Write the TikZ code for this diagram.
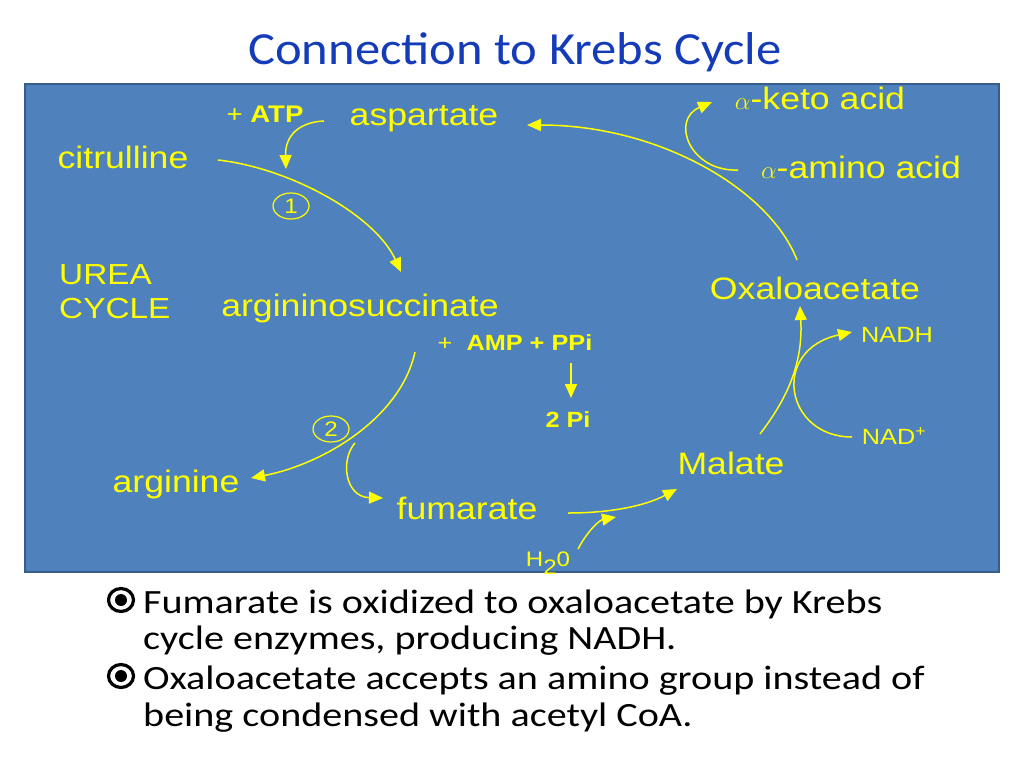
\documentclass[tikz,border=0pt]{standalone}
\usepackage{fontspec}
\setmainfont{Liberation Sans}[FakeStretch=1.15]
\newfontfamily\slidefont{Carlito}[FakeStretch=1.18]
\newfontfamily\titlefont{Carlito}[FakeStretch=1.1]
\usetikzlibrary{arrows.meta,shapes.geometric}
\definecolor{slideblue}{RGB}{79,129,189}
\definecolor{frameblue}{RGB}{56,93,138}
\definecolor{titleblue}{RGB}{20,60,185}
\definecolor{labelyellow}{RGB}{255,255,0}

\begin{document}
\begin{tikzpicture}[x=1pt,y=-1pt,
  metab/.style={text=labelyellow,font=\fontsize{31}{34}\selectfont,inner sep=0pt},
  small/.style={text=labelyellow,font=\fontsize{22}{26}\selectfont,inner sep=0pt},
  stepnum/.style={draw=labelyellow,ellipse,line width=1.2pt,text=labelyellow,
    font=\fontsize{21}{22}\selectfont,inner sep=0pt,minimum width=36pt,minimum height=26pt},
  flow/.style={draw=labelyellow,line width=1.5pt,-{Triangle[length=14pt,width=12pt]}},
  point/.style={anchor=base west,font=\slidefont\fontsize{34}{36}\selectfont,inner sep=0pt},
  ring/.style={draw=black,ellipse,line width=3.2pt,minimum width=25pt,minimum height=23pt,inner sep=0pt},
  core/.style={fill=black,circle,minimum size=12pt,inner sep=0pt}]

\useasboundingbox (0,0) rectangle (1024,768);
\fill[white] (0,0) rectangle (1024,768);
\node[anchor=base,text=titleblue,font=\titlefont\fontsize{46}{50}\selectfont] (title) at (515,64) {Connection to Krebs Cycle};
\draw[fill=slideblue,draw=frameblue,line width=2pt] (25,84) rectangle (999,572);

% metabolites
\node[metab] (citrulline) at (123,157) {citrulline};
\node[metab] (aspartate) at (424,119) {aspartate};
\node[metab] (argsucc) at (360,308) {argininosuccinate};
\node[metab] (arginine) at (176,484) {arginine};
\node[metab] (fumarate) at (467,508) {fumarate};
\node[metab] (malate) at (731,463) {Malate};
\node[metab] (oxalo) at (815,288) {Oxaloacetate};
\node[metab] (amino) at (861,167) {$\alpha$-amino acid};
\node[metab] (keto) at (820,98) {$\alpha$-keto acid};
\node[metab,anchor=west,align=left,font=\fontsize{29}{34}\selectfont] (urea) at (59,292) {UREA\\CYCLE};

% cofactors
\node[small,font=\fontsize{24}{26}\selectfont] (atp) at (265,114) {+ \textbf{ATP}};
\node[small] (amp) at (515,343) {+\ \ \textbf{AMP + PPi}};
\node[small] (twopi) at (568,420) {\textbf{2 Pi}};
\node[small] (nadh) at (897,335) {NADH};
\node[small] (nadplus) at (894,436) {NAD\textsuperscript{+}};
\node[small,font=\fontsize{21}{24}\selectfont] (water) at (548,563) {H\raisebox{-8pt}{2}0};
\node[stepnum] (step1) at (291,206) {1};
\node[stepnum] (step2) at (331,429) {2};

% curve ends
\coordinate (c1s) at (218,160);
\coordinate (c1e) at (401,272);
\coordinate (atps) at (324,121);
\coordinate (atpe) at (286,169);
\coordinate (c2s) at (415,352);
\coordinate (c2e) at (251,478);
\coordinate (c2b) at (355,443);
\coordinate (fume) at (383,498);
\coordinate (ppis) at (571,363);
\coordinate (ppie) at (571,398);
\coordinate (c3s) at (568,513);
\coordinate (c3e) at (677,489);
\coordinate (waters) at (578,549);
\coordinate (watere) at (616,517);
\coordinate (c4s) at (760,434);
\coordinate (c4e) at (800,306);
\coordinate (nads) at (852,437);
\coordinate (nade) at (852,332);
\coordinate (c5s) at (797,260);
\coordinate (c5e) at (527,125);
\coordinate (aminos) at (738,170);
\coordinate (ketoe) at (712,102);

\draw[flow] (c1s) .. controls (290,168) and (375,215) .. (c1e);
\draw[flow] (atps) .. controls (300,122) and (285,135) .. (atpe);
\draw[flow] (c2s) .. controls (400,420) and (320,465) .. (c2e);
\draw[flow] (c2b) .. controls (340,460) and (345,497) .. (fume);
\draw[flow] (ppis) -- (ppie);
\draw[flow] (c3s) .. controls (610,513) and (645,506) .. (c3e);
\draw[flow] (waters) .. controls (588,530) and (600,520) .. (watere);
\draw[flow] (c4s) .. controls (790,395) and (803,360) .. (c4e);
\draw[flow] (nads) .. controls (785,437) and (770,350) .. (nade);
\draw[flow] (c5s) .. controls (770,190) and (660,125) .. (c5e);
\draw[flow] (aminos) .. controls (690,172) and (670,120) .. (ketoe);

% bullets
\node[ring] (ring1) at (121,600) {};
\node[core] (core1) at (121,600) {};
\node[ring] (ring2) at (121,676) {};
\node[core] (core2) at (121,676) {};
\node[point] (line1) at (143,613) {Fumarate is oxidized to oxaloacetate by Krebs};
\node[point] (line2) at (143,649) {cycle enzymes, producing NADH.};
\node[point] (line3) at (143,689) {Oxaloacetate accepts an amino group instead of};
\node[point] (line4) at (143,726) {being condensed with acetyl CoA.};
\end{tikzpicture}
\end{document}
